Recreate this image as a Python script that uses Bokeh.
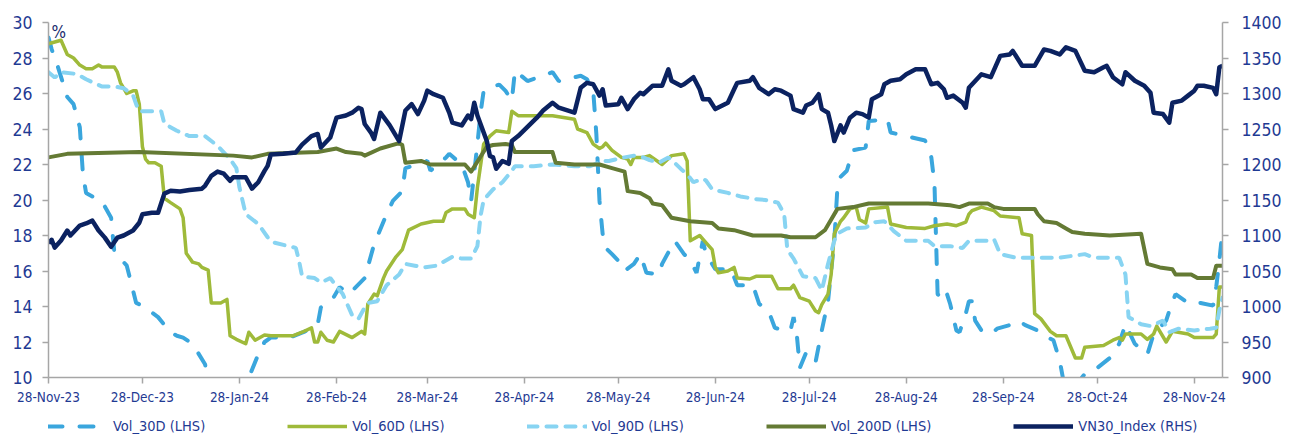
import pandas as pd
from bokeh.plotting import figure
from bokeh.layouts import column
from bokeh.models import (Range1d, LinearAxis, FixedTicker, DatetimeTickFormatter,
                          Legend, LegendItem, Label)
from bokeh.embed import file_html
from bokeh.resources import INLINE

# ---------------- data ----------------
x_start = "2023-11-28"
x_end = "2024-12-07"
month_ticks = ["2023-11-28", "2023-12-28", "2024-01-28", "2024-02-28", "2024-03-28",
               "2024-04-28", "2024-05-28", "2024-06-28", "2024-07-28", "2024-08-28",
               "2024-09-28", "2024-10-28", "2024-11-28"]
lhs_ticks = [10, 12, 14, 16, 18, 20, 22, 24, 26, 28, 30]
rhs_ticks = [900, 950, 1000, 1050, 1100, 1150, 1200, 1250, 1300, 1350, 1400]

vol30_dates = ["2023-11-28", "2023-11-29", "2023-12-01", "2023-12-04", "2023-12-06", "2023-12-08",
               "2023-12-09", "2023-12-10", "2023-12-13", "2023-12-15", "2023-12-18", "2023-12-19",
               "2023-12-23", "2023-12-26", "2023-12-28", "2024-01-02", "2024-01-06", "2024-01-08",
               "2024-01-10", "2024-01-13", "2024-01-17", "2024-01-18", "2024-01-24", "2024-01-31",
               "2024-02-03", "2024-02-05", "2024-02-07", "2024-02-13", "2024-02-18", "2024-02-21",
               "2024-02-22", "2024-02-23", "2024-02-26", "2024-02-27", "2024-02-29", "2024-03-03",
               "2024-03-08", "2024-03-11", "2024-03-15", "2024-03-17", "2024-03-20", "2024-03-21",
               "2024-03-25", "2024-03-28", "2024-03-29", "2024-04-03", "2024-04-04", "2024-04-08",
               "2024-04-10", "2024-04-11", "2024-04-13", "2024-04-14", "2024-04-15", "2024-04-18",
               "2024-04-20", "2024-04-22", "2024-04-24", "2024-04-25", "2024-04-29", "2024-05-07",
               "2024-05-09", "2024-05-16", "2024-05-18", "2024-05-20", "2024-05-21", "2024-05-22",
               "2024-05-23", "2024-05-24", "2024-05-26", "2024-05-29", "2024-05-30", "2024-06-02",
               "2024-06-04", "2024-06-06", "2024-06-10", "2024-06-11", "2024-06-15", "2024-06-18",
               "2024-06-20", "2024-06-22", "2024-06-24", "2024-06-25", "2024-06-28", "2024-07-03",
               "2024-07-05", "2024-07-10", "2024-07-12", "2024-07-15", "2024-07-17", "2024-07-20",
               "2024-07-22", "2024-07-23", "2024-07-24", "2024-07-25", "2024-07-27", "2024-07-30",
               "2024-08-01", "2024-08-03", "2024-08-05", "2024-08-06", "2024-08-07", "2024-08-09",
               "2024-08-11", "2024-08-15", "2024-08-16", "2024-08-22", "2024-08-23", "2024-08-28",
               "2024-09-03", "2024-09-05", "2024-09-06", "2024-09-07", "2024-09-09", "2024-09-10",
               "2024-09-11", "2024-09-13", "2024-09-14", "2024-09-16", "2024-09-17", "2024-09-18",
               "2024-09-19", "2024-09-21", "2024-09-24", "2024-09-26", "2024-09-30", "2024-10-03",
               "2024-10-05", "2024-10-09", "2024-10-10", "2024-10-14", "2024-10-16", "2024-10-17",
               "2024-10-20", "2024-10-24", "2024-10-27", "2024-11-01", "2024-11-04", "2024-11-06",
               "2024-11-09", "2024-11-13", "2024-11-15", "2024-11-19", "2024-11-20", "2024-11-22",
               "2024-11-26", "2024-11-28", "2024-11-30", "2024-12-04", "2024-12-05", "2024-12-06",
               "2024-12-07"]
vol30 = [29.15, 28.5, 27.5, 25.8, 25.4, 24.1,
         21.45, 20.4, 20.1, 19.95, 19.0, 17.1,
         16.3, 14.2, 14.05, 13.4, 12.55, 12.35,
         12.25, 11.9, 10.75, 9.8, 8.8, 10.0,
         11.3, 12.0, 12.25, 12.25, 12.6, 12.9,
         13.0, 13.95, 14.3, 14.5, 15.1, 14.7,
         15.6, 17.5, 19.2, 19.95, 20.5, 21.8,
         22.0, 22.2, 21.65, 22.4, 22.6, 22.0,
         21.0, 19.95, 23.15, 24.9, 26.15, 26.4,
         26.5, 26.15, 25.6, 27.3, 26.7, 27.2,
         26.7, 27.0, 26.8, 26.15, 23.7, 19.95,
         18.1, 17.3, 16.95, 16.4, 16.0, 16.4,
         16.95, 15.9, 15.8, 16.4, 17.7, 16.95,
         16.6, 15.9, 17.7, 16.95, 16.1, 16.1,
         15.2, 15.2, 14.15, 13.75, 12.8, 12.65,
         12.65, 13.4, 12.45, 10.55, 11.4, 10.85,
         12.65, 14.3, 17.7, 20.7, 21.3, 21.65,
         22.8, 22.95, 24.45, 24.55, 23.8, 23.6,
         23.35, 22.4, 20.9, 14.7, 14.3, 14.7,
         14.15, 12.65, 12.55, 13.6, 14.3, 14.3,
         13.2, 12.65, 12.45, 12.75, 12.95, 13.2,
         12.95, 12.65, 12.45, 12.1, 10.95, 10.0,
         9.3, 10.2, 10.4, 11.1, 11.9, 13.0,
         11.9, 11.3, 12.45, 13.2, 13.75, 14.7,
         14.2, 14.15, 14.2, 14.05, 15.1, 16.6,
         18.3]

vol60_dates = ["2023-11-28", "2023-11-30", "2023-12-02", "2023-12-04", "2023-12-06", "2023-12-08",
               "2023-12-10", "2023-12-12", "2023-12-14", "2023-12-15", "2023-12-19", "2023-12-20",
               "2023-12-21", "2023-12-23", "2023-12-25", "2023-12-26", "2023-12-27", "2023-12-28",
               "2023-12-29", "2023-12-30", "2024-01-01", "2024-01-03", "2024-01-04", "2024-01-06",
               "2024-01-09", "2024-01-10", "2024-01-11", "2024-01-13", "2024-01-15", "2024-01-16",
               "2024-01-18", "2024-01-19", "2024-01-22", "2024-01-24", "2024-01-25", "2024-01-27",
               "2024-01-30", "2024-01-31", "2024-02-02", "2024-02-05", "2024-02-07", "2024-02-14",
               "2024-02-17", "2024-02-20", "2024-02-21", "2024-02-22", "2024-02-23", "2024-02-25",
               "2024-02-27", "2024-02-29", "2024-03-04", "2024-03-07", "2024-03-08", "2024-03-09",
               "2024-03-11", "2024-03-12", "2024-03-14", "2024-03-15", "2024-03-18", "2024-03-20",
               "2024-03-22", "2024-03-26", "2024-03-30", "2024-04-02", "2024-04-03", "2024-04-05",
               "2024-04-09", "2024-04-10", "2024-04-12", "2024-04-13", "2024-04-15", "2024-04-17",
               "2024-04-19", "2024-04-23", "2024-04-24", "2024-04-26", "2024-05-07", "2024-05-14",
               "2024-05-15", "2024-05-18", "2024-05-20", "2024-05-22", "2024-05-23", "2024-05-24",
               "2024-05-26", "2024-05-29", "2024-05-31", "2024-06-01", "2024-06-02", "2024-06-05",
               "2024-06-07", "2024-06-11", "2024-06-14", "2024-06-18", "2024-06-19", "2024-06-20",
               "2024-06-22", "2024-06-23", "2024-06-25", "2024-06-27", "2024-06-28", "2024-06-29",
               "2024-07-02", "2024-07-04", "2024-07-05", "2024-07-09", "2024-07-11", "2024-07-16",
               "2024-07-18", "2024-07-22", "2024-07-23", "2024-07-25", "2024-07-28", "2024-07-30",
               "2024-07-31", "2024-08-01", "2024-08-03", "2024-08-04", "2024-08-05", "2024-08-07",
               "2024-08-08", "2024-08-10", "2024-08-12", "2024-08-13", "2024-08-15", "2024-08-16",
               "2024-08-22", "2024-08-23", "2024-08-28", "2024-09-03", "2024-09-06", "2024-09-10",
               "2024-09-13", "2024-09-16", "2024-09-17", "2024-09-18", "2024-09-21", "2024-09-25",
               "2024-09-27", "2024-10-03", "2024-10-04", "2024-10-07", "2024-10-08", "2024-10-10",
               "2024-10-13", "2024-10-15", "2024-10-18", "2024-10-21", "2024-10-23", "2024-10-24",
               "2024-10-30", "2024-11-02", "2024-11-04", "2024-11-05", "2024-11-06", "2024-11-11",
               "2024-11-13", "2024-11-15", "2024-11-16", "2024-11-19", "2024-11-21", "2024-11-26",
               "2024-11-28", "2024-12-04", "2024-12-05", "2024-12-06", "2024-12-07"]
vol60 = [28.8, 28.9, 29.0, 28.2, 28.0, 27.6,
         27.4, 27.4, 27.6, 27.5, 27.5, 27.2,
         26.6, 26.0, 26.15, 26.15, 25.4, 23.0,
         22.3, 22.1, 22.1, 21.9, 20.1, 19.85,
         19.5, 19.0, 17.0, 16.5, 16.4, 16.2,
         16.05, 14.2, 14.2, 14.4, 12.35, 12.15,
         11.9, 12.55, 12.1, 12.4, 12.35, 12.35,
         12.55, 12.8, 12.0, 12.0, 12.55, 12.1,
         12.0, 12.6, 12.25, 12.6, 12.45, 14.15,
         14.7, 14.6, 15.6, 16.0, 16.8, 17.2,
         18.3, 18.65, 18.8, 18.8, 19.3, 19.5,
         19.5, 19.2, 19.0, 20.7, 23.15, 23.6,
         23.9, 23.8, 25.0, 24.75, 24.75, 24.55,
         24.0, 23.8, 23.15, 22.9, 23.0, 23.2,
         22.8, 22.4, 22.3, 22.0, 22.4, 22.4,
         22.5, 22.0, 22.5, 22.6, 22.2, 17.7,
         17.9, 18.0, 17.6, 17.2, 16.2, 15.9,
         16.0, 16.2, 15.6, 15.55, 15.7, 15.7,
         15.0, 15.0, 15.2, 14.5, 14.3, 13.75,
         13.65, 14.1, 14.7, 15.8, 18.1, 18.8,
         19.0, 19.5, 19.6, 18.9, 18.7, 19.5,
         19.6, 18.65, 18.45, 18.4, 18.55, 18.65,
         18.55, 18.75, 19.2, 19.4, 19.6, 19.4,
         19.1, 19.0, 18.1, 18.0, 13.6, 13.3,
         12.6, 12.35, 12.35, 11.1, 11.1, 11.7,
         11.8, 12.1, 12.25, 12.1, 12.45, 12.45,
         12.15, 12.45, 12.9, 12.0, 12.6, 12.45,
         12.25, 12.25, 12.45, 15.1, 15.1]

vol90_dates = ["2023-11-28", "2023-11-30", "2023-12-02", "2023-12-07", "2023-12-10", "2023-12-15",
               "2023-12-19", "2023-12-22", "2023-12-25", "2023-12-26", "2023-12-27", "2024-01-03",
               "2024-01-04", "2024-01-08", "2024-01-12", "2024-01-17", "2024-01-21", "2024-01-25",
               "2024-01-27", "2024-01-28", "2024-01-30", "2024-02-03", "2024-02-06", "2024-02-08",
               "2024-02-15", "2024-02-16", "2024-02-17", "2024-02-21", "2024-02-23", "2024-02-26",
               "2024-03-01", "2024-03-04", "2024-03-06", "2024-03-08", "2024-03-09", "2024-03-12",
               "2024-03-14", "2024-03-15", "2024-03-19", "2024-03-21", "2024-03-24", "2024-03-27",
               "2024-03-31", "2024-04-05", "2024-04-08", "2024-04-11", "2024-04-13", "2024-04-14",
               "2024-04-15", "2024-04-18", "2024-04-21", "2024-04-24", "2024-04-25", "2024-05-01",
               "2024-05-07", "2024-05-14", "2024-05-19", "2024-05-23", "2024-05-25", "2024-05-30",
               "2024-06-02", "2024-06-05", "2024-06-07", "2024-06-10", "2024-06-13", "2024-06-15",
               "2024-06-17", "2024-06-19", "2024-06-21", "2024-06-24", "2024-06-25", "2024-06-27",
               "2024-07-02", "2024-07-06", "2024-07-11", "2024-07-14", "2024-07-18", "2024-07-20",
               "2024-07-21", "2024-07-23", "2024-07-26", "2024-07-30", "2024-08-01", "2024-08-03",
               "2024-08-05", "2024-08-06", "2024-08-09", "2024-08-15", "2024-08-18", "2024-08-21",
               "2024-08-24", "2024-08-28", "2024-09-04", "2024-09-06", "2024-09-11", "2024-09-15",
               "2024-09-17", "2024-09-23", "2024-09-25", "2024-09-27", "2024-10-02", "2024-10-16",
               "2024-10-24", "2024-10-27", "2024-11-04", "2024-11-06", "2024-11-07", "2024-11-11",
               "2024-11-14", "2024-11-18", "2024-11-20", "2024-11-23", "2024-11-28", "2024-12-03",
               "2024-12-05", "2024-12-06", "2024-12-07"]
vol90 = [27.2, 26.9, 27.2, 27.1, 26.8, 26.4,
         26.4, 26.3, 25.9, 25.4, 25.0, 25.0,
         24.3, 23.9, 23.6, 23.6, 23.05, 22.3,
         21.8, 20.7, 19.2, 18.65, 17.9, 17.6,
         17.3, 16.6, 15.7, 15.6, 15.35, 15.6,
         14.7, 13.5, 13.3, 13.95, 14.2, 14.3,
         14.9, 15.2, 15.8, 16.4, 16.3, 16.2,
         16.3, 16.8, 16.7, 16.7, 17.4, 19.1,
         20.0, 20.6, 21.0, 21.65, 21.9, 21.9,
         22.0, 21.9, 21.9, 22.2, 22.2, 22.4,
         22.5, 22.4, 22.25, 22.1, 22.4, 22.1,
         21.75, 21.45, 21.0, 21.2, 21.1, 20.6,
         20.4, 20.2, 20.05, 20.0, 19.85, 19.2,
         17.2, 16.7, 15.7, 15.6, 14.9, 16.4,
         17.7, 18.1, 18.4, 18.45, 18.75, 18.8,
         18.25, 17.7, 17.7, 17.4, 17.4, 17.3,
         17.7, 17.7, 17.8, 16.95, 16.75, 16.75,
         16.95, 16.75, 16.75, 15.8, 13.4, 13.0,
         12.9, 13.2, 12.55, 12.75, 12.65, 12.75,
         12.8, 13.8, 14.5]

vol200_dates = ["2023-11-28", "2023-12-04", "2023-12-27", "2024-01-26", "2024-02-01", "2024-02-06",
                "2024-02-22", "2024-02-28", "2024-03-02", "2024-03-07", "2024-03-08", "2024-03-13",
                "2024-03-19", "2024-03-20", "2024-03-21", "2024-03-26", "2024-03-29", "2024-04-09",
                "2024-04-11", "2024-04-16", "2024-04-18", "2024-04-22", "2024-04-24", "2024-04-25",
                "2024-05-07", "2024-05-08", "2024-05-14", "2024-05-22", "2024-05-26", "2024-05-30",
                "2024-05-31", "2024-06-04", "2024-06-07", "2024-06-08", "2024-06-11", "2024-06-14",
                "2024-06-20", "2024-06-27", "2024-06-29", "2024-07-04", "2024-07-10", "2024-07-19",
                "2024-07-22", "2024-07-30", "2024-08-02", "2024-08-06", "2024-08-11", "2024-08-16",
                "2024-09-04", "2024-09-11", "2024-09-14", "2024-09-17", "2024-09-23", "2024-09-25",
                "2024-09-28", "2024-10-08", "2024-10-09", "2024-10-11", "2024-10-15", "2024-10-18",
                "2024-10-20", "2024-10-24", "2024-11-01", "2024-11-11", "2024-11-13", "2024-11-17",
                "2024-11-21", "2024-11-22", "2024-11-27", "2024-11-29", "2024-12-04", "2024-12-05",
                "2024-12-07"]
vol200 = [22.4, 22.6, 22.7, 22.5, 22.4, 22.6,
          22.7, 22.9, 22.7, 22.6, 22.5, 22.9,
          23.2, 23.1, 22.1, 22.2, 22.0, 22.0,
          21.6, 23.0, 23.1, 23.15, 23.1, 22.7,
          22.7, 22.1, 22.0, 22.0, 21.8, 21.6,
          20.5, 20.4, 20.1, 19.8, 19.7, 19.0,
          18.8, 18.7, 18.4, 18.3, 18.0, 18.0,
          17.9, 17.9, 18.3, 19.5, 19.6, 19.8,
          19.8, 19.7, 19.6, 19.8, 19.8, 19.6,
          19.5, 19.5, 19.2, 18.8, 18.7, 18.4,
          18.2, 18.1, 18.0, 18.1, 16.4, 16.2,
          16.1, 15.8, 15.8, 15.6, 15.6, 16.3,
          16.3]

vn30_dates = ["2023-11-28", "2023-11-29", "2023-11-30", "2023-12-02", "2023-12-04", "2023-12-05",
              "2023-12-08", "2023-12-10", "2023-12-12", "2023-12-14", "2023-12-16", "2023-12-18",
              "2023-12-20", "2023-12-22", "2023-12-25", "2023-12-27", "2023-12-28", "2023-12-31",
              "2024-01-02", "2024-01-04", "2024-01-06", "2024-01-09", "2024-01-12", "2024-01-16",
              "2024-01-17", "2024-01-19", "2024-01-21", "2024-01-23", "2024-01-25", "2024-01-26",
              "2024-01-30", "2024-02-01", "2024-02-03", "2024-02-05", "2024-02-06", "2024-02-07",
              "2024-02-11", "2024-02-15", "2024-02-17", "2024-02-20", "2024-02-22", "2024-02-23",
              "2024-02-26", "2024-02-28", "2024-03-02", "2024-03-04", "2024-03-06", "2024-03-07",
              "2024-03-08", "2024-03-10", "2024-03-11", "2024-03-13", "2024-03-16", "2024-03-19",
              "2024-03-21", "2024-03-23", "2024-03-25", "2024-03-27", "2024-03-28", "2024-03-30",
              "2024-04-02", "2024-04-04", "2024-04-05", "2024-04-08", "2024-04-10", "2024-04-11",
              "2024-04-12", "2024-04-13", "2024-04-16", "2024-04-17", "2024-04-18", "2024-04-19",
              "2024-04-21", "2024-04-23", "2024-04-24", "2024-04-26", "2024-05-02", "2024-05-04",
              "2024-05-07", "2024-05-09", "2024-05-14", "2024-05-16", "2024-05-18", "2024-05-20",
              "2024-05-22", "2024-05-23", "2024-05-24", "2024-05-28", "2024-05-29", "2024-05-31",
              "2024-06-02", "2024-06-04", "2024-06-05", "2024-06-08", "2024-06-11", "2024-06-13",
              "2024-06-14", "2024-06-17", "2024-06-18", "2024-06-21", "2024-06-23", "2024-06-24",
              "2024-06-26", "2024-06-28", "2024-07-02", "2024-07-04", "2024-07-05", "2024-07-09",
              "2024-07-10", "2024-07-12", "2024-07-15", "2024-07-17", "2024-07-19", "2024-07-22",
              "2024-07-23", "2024-07-26", "2024-07-27", "2024-07-29", "2024-07-31", "2024-08-01",
              "2024-08-03", "2024-08-04", "2024-08-05", "2024-08-07", "2024-08-08", "2024-08-10",
              "2024-08-12", "2024-08-14", "2024-08-16", "2024-08-17", "2024-08-20", "2024-08-21",
              "2024-08-23", "2024-08-26", "2024-08-28", "2024-08-31", "2024-09-03", "2024-09-05",
              "2024-09-07", "2024-09-09", "2024-09-10", "2024-09-12", "2024-09-15", "2024-09-16",
              "2024-09-17", "2024-09-21", "2024-09-24", "2024-09-27", "2024-09-30", "2024-10-01",
              "2024-10-04", "2024-10-08", "2024-10-11", "2024-10-13", "2024-10-16", "2024-10-18",
              "2024-10-21", "2024-10-24", "2024-10-27", "2024-10-30", "2024-10-31", "2024-11-02",
              "2024-11-05", "2024-11-06", "2024-11-09", "2024-11-12", "2024-11-14", "2024-11-15",
              "2024-11-18", "2024-11-20", "2024-11-21", "2024-11-24", "2024-11-26", "2024-11-28",
              "2024-11-29", "2024-12-01", "2024-12-04", "2024-12-05", "2024-12-06", "2024-12-07"]
vn30 = [1089, 1094, 1083, 1093, 1107, 1100,
        1114, 1117, 1121, 1107, 1097, 1084,
        1097, 1100, 1107, 1118, 1130, 1132,
        1132, 1159, 1163, 1162, 1164, 1166,
        1170, 1184, 1190, 1187, 1177, 1182,
        1182, 1166, 1175, 1191, 1198, 1214,
        1215, 1217, 1228, 1240, 1243, 1224,
        1238, 1266, 1269, 1273, 1280, 1278,
        1257, 1245, 1236, 1273, 1255, 1233,
        1276, 1285, 1271, 1290, 1304, 1299,
        1294, 1273, 1259, 1255, 1269, 1264,
        1287, 1269, 1233, 1212, 1210, 1194,
        1205, 1201, 1233, 1240, 1266, 1276,
        1287, 1280, 1273, 1308, 1315, 1313,
        1297, 1306, 1283, 1285, 1294, 1278,
        1292, 1301, 1299, 1311, 1311, 1334,
        1318, 1311, 1313, 1323, 1306, 1292,
        1292, 1278, 1287, 1306, 1315, 1318,
        1323, 1308, 1299, 1306, 1304, 1297,
        1278, 1273, 1283, 1287, 1299, 1278,
        1273, 1255, 1233, 1255, 1245, 1266,
        1273, 1271, 1266, 1292, 1299, 1313,
        1318, 1320, 1327, 1334, 1334, 1313,
        1315, 1306, 1294, 1297, 1287, 1280,
        1308, 1327, 1323, 1353, 1355, 1360,
        1339, 1339, 1362, 1360, 1355, 1365,
        1360, 1332, 1330, 1337, 1339, 1323,
        1313, 1330, 1318, 1311, 1301, 1273,
        1271, 1259, 1287, 1290, 1297, 1304,
        1311, 1311, 1308, 1299, 1337, 1339]

series_labels = ["Vol_30D (LHS)", "Vol_60D (LHS)", "Vol_90D (LHS)", "Vol_200D (LHS)", "VN30_Index (RHS)"]
unit_label = "%"

# ---------------- styling ----------------
FONT = "DejaVu Sans Condensed"
TICK_COLOR = "#1f3a93"
AXIS_COLOR = "#a6a6a6"
COLORS = ["#3aa6dd", "#9fba3a", "#88d4f2", "#647a34", "#0b2260"]
STYLES = [dict(line_width=4, line_dash="14 17", line_cap="round"),
          dict(line_width=3.5, line_join="round"),
          dict(line_width=4, line_dash="10 9", line_cap="round"),
          dict(line_width=4, line_join="round"),
          dict(line_width=4.5, line_join="round")]

to_ms = lambda s: pd.Timestamp(s).value / 1e6

p = figure(width=1296, height=416, x_axis_type="datetime",
           x_range=Range1d(to_ms(x_start), to_ms(x_end)),
           y_range=Range1d(lhs_ticks[0], lhs_ticks[-1]),
           output_backend="svg", toolbar_location=None,
           min_border_left=48, min_border_right=74, min_border_top=22, min_border_bottom=39)
p.extra_y_ranges = {"rhs": Range1d(rhs_ticks[0], rhs_ticks[-1])}
p.outline_line_color = None
p.xgrid.visible = False
p.ygrid.visible = False
p.background_fill_color = "white"
p.border_fill_color = "white"

right_axis = LinearAxis(y_range_name="rhs")
p.add_layout(right_axis, "right")

p.xaxis.ticker = FixedTicker(ticks=[to_ms(t) for t in month_ticks])
fmt = "%d-%b-%y"
p.xaxis.formatter = DatetimeTickFormatter(milliseconds=fmt, seconds=fmt, minsec=fmt, minutes=fmt,
                                          hourmin=fmt, hours=fmt, days=fmt, months=fmt, years=fmt)
p.yaxis[0].ticker = FixedTicker(ticks=lhs_ticks)
right_axis.ticker = FixedTicker(ticks=rhs_ticks)

for ax in [p.xaxis[0], p.yaxis[0], right_axis]:
    ax.axis_line_color = AXIS_COLOR
    ax.axis_line_width = 1.5
    ax.major_tick_line_color = AXIS_COLOR
    ax.major_tick_line_width = 1.5
    ax.major_tick_out = 6
    ax.major_tick_in = 0
    ax.minor_tick_line_color = None
    ax.major_label_text_color = TICK_COLOR
    ax.major_label_text_font = FONT

p.xaxis[0].major_label_text_font_size = "13.5px"
p.xaxis[0].major_label_standoff = 5
p.yaxis[0].major_label_text_font_size = "17.5px"
p.yaxis[0].major_label_standoff = 10
right_axis.major_label_text_font_size = "17.5px"
right_axis.major_label_standoff = 13

dt = lambda lst: pd.to_datetime(lst)
all_dates = [vol30_dates, vol60_dates, vol90_dates, vol200_dates, vn30_dates]
all_vals = [vol30, vol60, vol90, vol200, vn30]
for i, (d, v) in enumerate(zip(all_dates, all_vals)):
    kw = dict(y_range_name="rhs") if i == 4 else {}
    p.line(dt(d), v, line_color=COLORS[i], **STYLES[i], **kw)

# "%" unit marker at the top of the left axis
p.add_layout(Label(x=to_ms(x_start), y=lhs_ticks[-1], x_offset=3, y_offset=1, text=unit_label,
                   text_baseline="top", text_font=FONT, text_font_size="17px",
                   text_color="#1a2c6e"))

# ---------------- legend strip (frames are aligned with the chart above) ----------------
lp = figure(width=1296, height=20, x_range=Range1d(0, 1), y_range=Range1d(0, 1),
            output_backend="svg", toolbar_location=None,
            x_axis_location=None, y_axis_location=None,
            min_border_left=48, min_border_right=74, min_border_top=0, min_border_bottom=0)
lp.outline_line_color = None
lp.grid.visible = False
lp.background_fill_color = "white"
lp.border_fill_color = "white"
# legend swatches: renderers kept outside the visible strip range
lrs = [lp.line([-5, -4], [-5, -4], line_color=COLORS[i], **STYLES[i]) for i in range(5)]
legend = Legend(items=[LegendItem(label=lab, renderers=[r]) for lab, r in zip(series_labels, lrs)],
                orientation="horizontal", location=(0, 2),
                glyph_width=60, glyph_height=16, label_height=16, label_standoff=5,
                spacing=82, padding=0, margin=0,
                label_text_font=FONT, label_text_font_size="14.5px", label_text_color=TICK_COLOR,
                border_line_alpha=0, background_fill_alpha=0)
lp.add_layout(legend)

layout = column(p, lp, spacing=0)
open("out.html", "w").write(file_html(layout, INLINE))
